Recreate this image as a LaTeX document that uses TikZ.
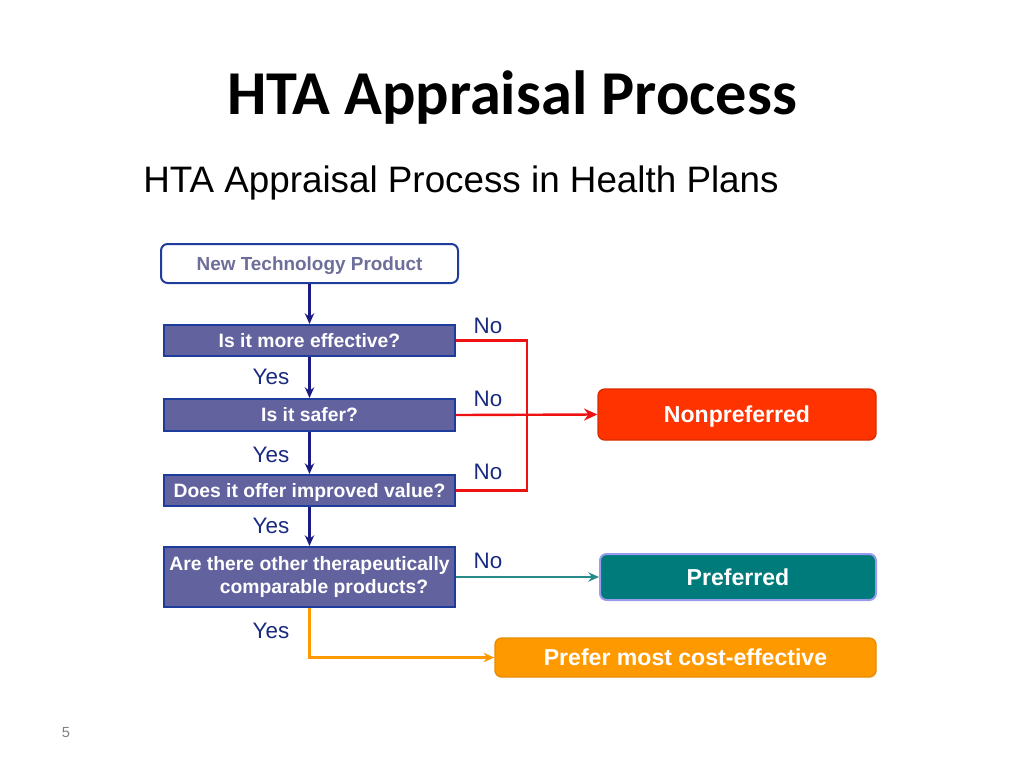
\documentclass[tikz,border=0pt]{standalone}
\usepackage{fontspec}
\setmainfont{Liberation Sans}
\newfontfamily\titlefont{Carlito}
\usetikzlibrary{arrows.meta}
\definecolor{qfill}{HTML}{62629E}
\definecolor{qborder}{HTML}{1E3C9C}
\definecolor{navy}{HTML}{1A1A80}
\definecolor{labelc}{HTML}{1A2A80}
\definecolor{npred}{HTML}{FF3300}
\definecolor{linered}{HTML}{EE1111}
\definecolor{tealc}{HTML}{007B7B}
\definecolor{tealline}{HTML}{2A8A8A}
\definecolor{lav}{HTML}{9A9AF0}
\definecolor{orangec}{HTML}{FF9900}
\definecolor{orangeb}{HTML}{E88A00}
\definecolor{startc}{HTML}{6E6E9A}
\tikzset{
  qbox/.style={draw=qborder, line width=1.5pt, fill=qfill, text=white, font=\bfseries\fontsize{14.5}{17}\selectfont, inner sep=0pt, align=center},
  oneline/.style={text height=10.4pt, text depth=0pt},
  resbox/.style={rounded corners=5pt, text=white, font=\bfseries\fontsize{17.3}{20}\selectfont, inner sep=0pt, line width=1pt, text height=12.4pt, text depth=0pt},
  lbl/.style={text=labelc, font=\fontsize{16.8}{19}\selectfont, inner sep=0pt},
  yesarrow/.style={draw=navy, line width=1.6pt, -{Stealth[length=8pt,width=7pt]}},
}
\begin{document}
\begin{tikzpicture}[x=0.75pt,y=-0.75pt]
\useasboundingbox (0,0) rectangle (1024,768);
\node[font=\titlefont\bfseries\fontsize{46.8}{52}\selectfont, inner sep=0pt] (title) at (512,98) {HTA Appraisal Process};
\node[font=\fontsize{27.6}{32}\selectfont, anchor=west, inner sep=0pt] (sub) at (143,183) {HTA Appraisal Process in Health Plans};
% start box
\node[draw=qborder, line width=1.5pt, rounded corners=5pt, fill=white, text=startc, font=\bfseries\fontsize{14.2}{17}\selectfont, minimum width=297*0.75pt, minimum height=39*0.75pt, inner sep=0pt, oneline] (start) at (309.5,263.5) {New Technology Product};
% question boxes
\node[qbox, oneline, minimum width=291*0.75pt, minimum height=31*0.75pt] (q1) at (309.5,340.5) {Is it more effective?};
\node[qbox, oneline, minimum width=291*0.75pt, minimum height=32*0.75pt] (q2) at (309.5,415) {Is it safer?};
\node[qbox, oneline, minimum width=291*0.75pt, minimum height=31*0.75pt] (q3) at (309.5,490.5) {Does it offer improved value?};
\node[qbox, minimum width=291*0.75pt, minimum height=60*0.75pt] (q4) at (309.5,577) {Are there other therapeutically\\ \hspace*{1.5em}comparable products?};
% result boxes
\node[resbox, fill=npred, draw=npred!85!black, minimum width=278*0.75pt, minimum height=51*0.75pt] (np) at (737,414.5) {Nonpreferred};
\node[resbox, fill=tealc, draw=lav, line width=1.5pt, minimum width=276*0.75pt, minimum height=46*0.75pt] (pref) at (738,577) {Preferred};
\node[resbox, fill=orangec, draw=orangeb, minimum width=381*0.75pt, minimum height=39*0.75pt] (pce) at (685.5,657.5) {Prefer most cost-effective};
% yes arrows
\draw[yesarrow] (start.south) -- (q1.north);
\draw[yesarrow] (q1.south) -- (q2.north);
\draw[yesarrow] (q2.south) -- (q3.north);
\draw[yesarrow] (q3.south) -- (q4.north);
% no connectors
\coordinate (j1) at (527,340.5);
\coordinate (j3) at (527,490.5);
\draw[linered, line width=1.6pt] (q1.east) -- (j1) -- (j3) -- (q3.east);
\draw[linered, line width=1.8pt, -{Stealth[length=10pt,width=9pt]}] (q2.east) -- (np.west);
\draw[tealline, line width=1.4pt, -{Stealth[length=8pt,width=7pt]}] (q4.east) -- (pref.west);
\draw[orangec, line width=1.6pt, -{Stealth[length=8pt,width=7pt]}] (q4.south) |- (pce.west);
% labels
\node[lbl] (y1) at (271,377) {Yes};
\node[lbl] (y2) at (271,455) {Yes};
\node[lbl] (y3) at (271,526) {Yes};
\node[lbl] (y4) at (271,631) {Yes};
\node[lbl] (n1) at (488,326) {No};
\node[lbl] (n2) at (488,399) {No};
\node[lbl] (n3) at (488,472) {No};
\node[lbl] (n4) at (488,561) {No};
\node[text=gray, font=\fontsize{11}{13}\selectfont, inner sep=0pt] (pg) at (66,733) {5};
\end{tikzpicture}
\end{document}
